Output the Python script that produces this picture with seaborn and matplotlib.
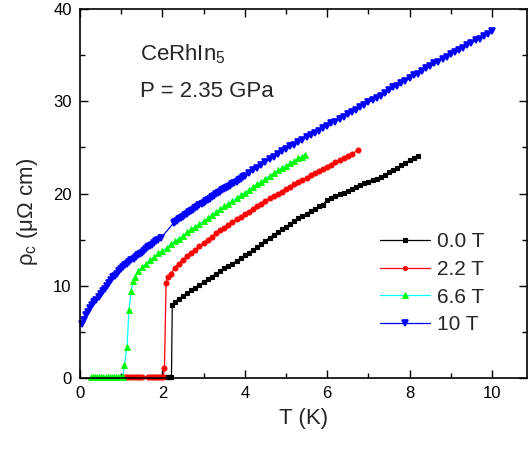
import matplotlib
matplotlib.use("Agg")
import matplotlib.pyplot as plt
import seaborn as sns
import pandas as pd
from matplotlib.ticker import MultipleLocator

# rho_c (micro-ohm cm) vs T (K) for CeRhIn5 at 2.35 GPa, four fields
t_0T = [2.07, 2.10, 2.13, 2.16, 2.19, 2.22, 2.24, 2.3, 2.4, 2.5, 2.6, 2.7, 2.8, 2.9,
        3.0, 3.1, 3.2, 3.3, 3.4, 3.5, 3.6, 3.7, 3.8, 3.9, 4.0, 4.1, 4.2, 4.3, 4.4,
        4.5, 4.6, 4.7, 4.8, 4.9, 5.0, 5.1, 5.2, 5.3, 5.4, 5.5, 5.6, 5.7, 5.8, 5.9,
        6.0, 6.1, 6.2, 6.3, 6.4, 6.5, 6.6, 6.7, 6.8, 6.9, 7.0, 7.1, 7.2, 7.3, 7.4,
        7.5, 7.6, 7.7, 7.8, 7.9, 8.0, 8.1, 8.21]
rho_0T = [0.15, 0.15, 0.15, 0.15, 0.15, 0.15, 7.9, 8.2, 8.6, 8.9, 9.2, 9.5, 9.8, 10.1,
          10.4, 10.7, 11.0, 11.3, 11.6, 11.9, 12.1, 12.4, 12.7, 13.0, 13.3, 13.6, 13.9, 14.2, 14.5,
          14.9, 15.2, 15.5, 15.8, 16.1, 16.4, 16.7, 17.0, 17.3, 17.6, 17.8, 18.1, 18.3, 18.6, 18.8,
          19.3, 19.5, 19.7, 19.9, 20.1, 20.3, 20.5, 20.7, 20.9, 21.1, 21.3, 21.5, 21.6, 21.8, 22.0,
          22.3, 22.6, 22.8, 23.1, 23.3, 23.6, 23.8, 24.1]

t_22T = [1.10, 1.15, 1.20, 1.25, 1.30, 1.35, 1.40, 1.45, 1.50, 1.64, 1.70, 1.75, 1.80,
         1.85, 1.90, 1.95, 2.00, 2.02, 2.05, 2.09, 2.14, 2.2, 2.3, 2.4, 2.5, 2.6, 2.7,
         2.8, 2.9, 3.0, 3.1, 3.2, 3.3, 3.4, 3.5, 3.6, 3.7, 3.8, 3.9, 4.0, 4.1, 4.2,
         4.3, 4.4, 4.5, 4.6, 4.7, 4.8, 4.9, 5.0, 5.1, 5.2, 5.3, 5.4, 5.5, 5.6, 5.7,
         5.8, 5.9, 6.0, 6.1, 6.2, 6.3, 6.4, 6.5, 6.6, 6.75]
rho_22T = [0.15, 0.15, 0.15, 0.15, 0.15, 0.15, 0.15, 0.15, 0.15, 0.15, 0.15, 0.15, 0.15,
           0.15, 0.15, 0.15, 0.15, 0.15, 1.1, 10.3, 11.0, 11.3, 11.9, 12.4, 12.8, 13.2, 13.6,
           13.9, 14.3, 14.6, 15.0, 15.3, 15.7, 16.0, 16.3, 16.6, 16.9, 17.2, 17.5, 17.8, 18.0, 18.3,
           18.6, 18.9, 19.2, 19.5, 19.7, 20.0, 20.2, 20.5, 20.7, 21.0, 21.2, 21.5, 21.7, 22.0, 22.2,
           22.4, 22.7, 22.9, 23.1, 23.4, 23.6, 23.8, 24.1, 24.3, 24.7]

t_66T = [0.27, 0.32, 0.37, 0.42, 0.47, 0.52, 0.57, 0.62, 0.67, 0.72, 0.77, 0.82, 0.87,
         0.92, 0.97, 1.02, 1.04, 1.08, 1.14, 1.19, 1.24, 1.29, 1.34, 1.41, 1.5, 1.6,
         1.7, 1.8, 1.9, 2.0, 2.1, 2.2, 2.3, 2.4, 2.5, 2.6, 2.7, 2.8, 2.9, 3.0, 3.1,
         3.2, 3.3, 3.4, 3.5, 3.6, 3.7, 3.8, 3.9, 4.0, 4.1, 4.2, 4.3, 4.4, 4.5, 4.6,
         4.7, 4.8, 4.9, 5.0, 5.1, 5.2, 5.3, 5.4, 5.46]
rho_66T = [0.15, 0.15, 0.15, 0.15, 0.15, 0.15, 0.15, 0.15, 0.15, 0.15, 0.15, 0.15, 0.15,
           0.15, 0.15, 0.15, 0.15, 1.4, 3.4, 7.4, 9.4, 10.5, 11.0, 11.6, 12.0, 12.4,
           12.8, 13.1, 13.5, 13.8, 14.1, 14.5, 14.8, 15.1, 15.4, 15.8, 16.1, 16.4, 16.7, 17.0, 17.3,
           17.7, 18.0, 18.3, 18.6, 18.9, 19.2, 19.5, 19.8, 20.1, 20.4, 20.7, 21.0, 21.3, 21.6, 21.9,
           22.2, 22.5, 22.8, 23.0, 23.3, 23.5, 23.8, 24.0, 24.2]

t_10T = [0.05, 0.1, 0.15, 0.2, 0.25, 0.3, 0.35, 0.4, 0.45, 0.5, 0.55, 0.6, 0.65, 0.7,
         0.75, 0.8, 0.85, 0.9, 0.95, 1.0, 1.05, 1.1, 1.15, 1.2, 1.25, 1.3, 1.35, 1.4,
         1.45, 1.5, 1.55, 1.6, 1.65, 1.7, 1.75, 1.8, 1.85, 1.9, 1.97, 2.27, 2.3, 2.35,
         2.4, 2.45, 2.5, 2.55, 2.6, 2.65, 2.7, 2.75, 2.8, 2.85, 2.9, 2.95, 3.0, 3.05,
         3.1, 3.15, 3.2, 3.25, 3.3, 3.35, 3.4, 3.45, 3.5, 3.55, 3.6, 3.65, 3.7, 3.75,
         3.8, 3.85, 3.9, 3.95, 4.0, 4.1, 4.2, 4.3, 4.4, 4.5, 4.6, 4.7, 4.8, 4.9, 5.0,
         5.1, 5.2, 5.3, 5.4, 5.5, 5.6, 5.7, 5.8, 5.9, 6.0, 6.1, 6.2, 6.3, 6.4, 6.5,
         6.6, 6.7, 6.8, 6.9, 7.0, 7.1, 7.2, 7.3, 7.4, 7.5, 7.6, 7.7, 7.8, 7.9, 8.0,
         8.1, 8.2, 8.3, 8.4, 8.5, 8.6, 8.7, 8.8, 8.9, 9.0, 9.1, 9.2, 9.3, 9.4, 9.5,
         9.6, 9.7, 9.8, 9.9, 10.0]
rho_10T = [5.8, 6.3, 6.8, 7.2, 7.6, 7.9, 8.2, 8.5, 8.8, 9.1, 9.4, 9.7, 10.0, 10.3,
           10.6, 10.9, 11.1, 11.3, 11.6, 11.8, 12.0, 12.2, 12.4, 12.6, 12.75, 12.9, 13.1, 13.3,
           13.45, 13.6, 13.8, 14.0, 14.15, 14.3, 14.45, 14.6, 14.8, 15.0, 15.2, 16.8, 16.9, 17.05,
           17.2, 17.35, 17.5, 17.65, 17.8, 17.95, 18.1, 18.25, 18.4, 18.55, 18.7, 18.85, 19.0, 19.15,
           19.3, 19.45, 19.6, 19.75, 19.9, 20.05, 20.2, 20.35, 20.5, 20.6, 20.7, 20.85, 21.0, 21.15,
           21.3, 21.45, 21.6, 21.75, 21.9, 22.2, 22.5, 22.8, 23.1, 23.4, 23.7, 24.0, 24.3, 24.6, 24.8,
           25.1, 25.3, 25.6, 25.8, 26.1, 26.3, 26.6, 26.8, 27.1, 27.3, 27.6, 27.8, 28.1, 28.3, 28.6,
           28.8, 29.1, 29.4, 29.6, 29.9, 30.1, 30.4, 30.6, 30.9, 31.2, 31.5, 31.7, 32.0, 32.2, 32.5,
           32.8, 33.0, 33.3, 33.6, 33.8, 34.1, 34.3, 34.6, 34.8, 35.1, 35.3, 35.6, 35.8, 36.1, 36.3,
           36.6, 36.8, 37.1, 37.3, 37.6]

labels = ["0.0 T", "2.2 T", "6.6 T", "10 T"]

sns.set_style("ticks")
plt.rcParams['font.family'] = ['Liberation Sans', 'DejaVu Sans']
plt.rcParams['mathtext.fontset'] = 'custom'
plt.rcParams['mathtext.rm'] = 'Liberation Sans'
plt.rcParams['mathtext.it'] = 'Liberation Sans:italic'

fig = plt.figure(figsize=(5.28, 4.5), dpi=100)
ax = fig.add_axes([80 / 528, 1 - 378 / 450, 447 / 528, 369 / 450])

series = [
    (t_0T, rho_0T, labels[0], "s", "black", "black", 3.2, 0.8),
    (t_22T, rho_22T, labels[1], "o", "red", "red", 3.8, 0.5),
    (t_66T, rho_66T, labels[2], "^", "cyan", "#00ff00", 4.5, 0.6),
    (t_10T, rho_10T, labels[3], "v", "blue", "blue", 5.0, 1.2),
]
for t, rho, lab, mk, lc, mc, ms, mew in series:
    df = pd.DataFrame({"T": t, "rho": rho})
    sns.lineplot(data=df, x="T", y="rho", ax=ax, label=lab, estimator=None, sort=False,
                 color=lc, linewidth=0.9, marker=mk, markersize=ms,
                 markerfacecolor=mc, markeredgecolor=mc, markeredgewidth=mew,
                 clip_on=False)

ax.set_xlim(0, 10.85)
ax.set_ylim(0, 40)
ax.xaxis.set_major_locator(MultipleLocator(2))
ax.xaxis.set_minor_locator(MultipleLocator(1))
ax.yaxis.set_major_locator(MultipleLocator(10))
ax.yaxis.set_minor_locator(MultipleLocator(5))
ax.tick_params(which="both", direction="in", top=True, right=True, width=1, colors="black")
ax.tick_params(which="major", length=6, labelsize=12, pad=6)
ax.tick_params(which="minor", length=3.5)
for s in ax.spines.values():
    s.set_linewidth(1.2)
    s.set_color("black")

ax.set_xlabel("T (K)", fontsize=16, labelpad=5)
ax.set_ylabel(r"ρ$_\mathrm{c}$ (μΩ cm)", fontsize=16)
ax.yaxis.set_label_coords(-0.09, 0.45)

ax.text(0.134, 0.862, r"CeRhIn$_\mathrm{5}$", transform=ax.transAxes, fontsize=16, va="baseline")
ax.text(0.134, 0.7615, "P = 2.35 GPa", transform=ax.transAxes, fontsize=16, va="baseline")

ax.legend(loc="upper left", bbox_to_anchor=(0.672, 0.395), frameon=False, fontsize=15,
          handlelength=2.4, handletextpad=0.3, labelspacing=0.42, borderpad=0,
          borderaxespad=0, markerscale=0.85)

fig.savefig("out.png", dpi=100)
